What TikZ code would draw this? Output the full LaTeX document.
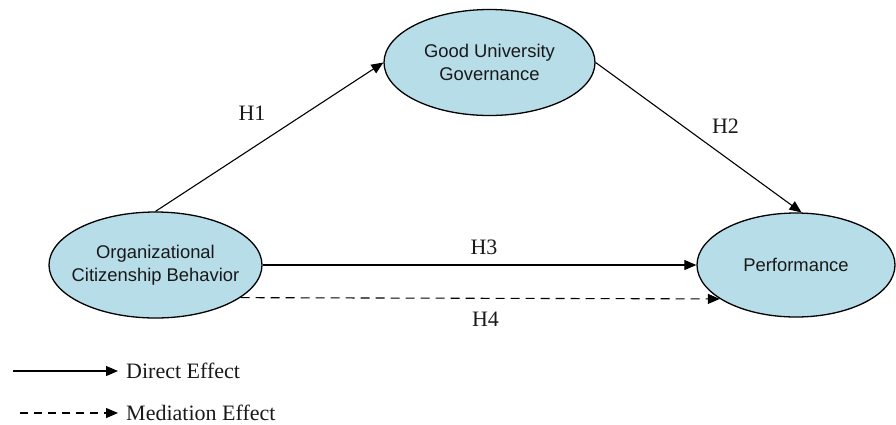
\documentclass[tikz,border=0pt]{standalone}
\usepackage{fontspec}
\setmainfont{Liberation Serif}
\newfontfamily\arialfont{Liberation Sans}
\usetikzlibrary{shapes.geometric,arrows.meta}
\definecolor{ovalfill}{RGB}{183,221,232}
\begin{document}
\begin{tikzpicture}[x=1pt,y=-1pt,
  oval/.style={ellipse, draw=black, line width=1.3pt, fill=ovalfill, inner sep=0pt},
  ovaltext/.style={font=\arialfont\fontsize{18.4}{23}\selectfont, align=center, text=black!90},
  lbl/.style={font=\fontsize{22}{26}\selectfont, inner sep=0pt, text=black!90},
  conn/.style={line width=1.1pt, -{Triangle[length=12pt,width=10pt]}},
  med/.style={conn, dash pattern=on 9pt off 6pt}]
\useasboundingbox (0,0) rectangle (896,424);

\node[oval, minimum width=211, minimum height=106,
      label={[ovaltext]center:Good University\\Governance}] (gug) at (489.5,62.5) {};
\node[oval, minimum width=213, minimum height=106,
      label={[ovaltext]center:Organizational\\Citizenship Behavior}] (ocb) at (155.5,265) {};
\node[oval, minimum width=198, minimum height=104,
      label={[ovaltext]center:Performance}] (perf) at (796,265) {};

\draw[conn] (ocb.north) -- (gug.west);
\draw[conn] (gug.east) -- (perf.84);
\draw[conn] (ocb.east) -- (perf.west);
\draw[med] (ocb.-21.7) -- (perf.-156.5);

\node[lbl] (h1) at (252,113.5) {H1};
\node[lbl] (h2) at (725.5,126) {H2};
\node[lbl] (h3) at (484,247.5) {H3};
\node[lbl] (h4) at (485.5,319.5) {H4};

\coordinate (d1) at (13,371);
\coordinate (d2) at (118,371);
\draw[conn] (d1) -- (d2);
\node[lbl, anchor=west] (dtext) at (126,371) {Direct Effect};

\coordinate (m1) at (20,413);
\coordinate (m2) at (118,413);
\draw[med, dash pattern=on 8pt off 6pt] (m1) -- (m2);
\node[lbl, anchor=west] (mtext) at (126,413) {Mediation Effect};
\end{tikzpicture}
\end{document}
